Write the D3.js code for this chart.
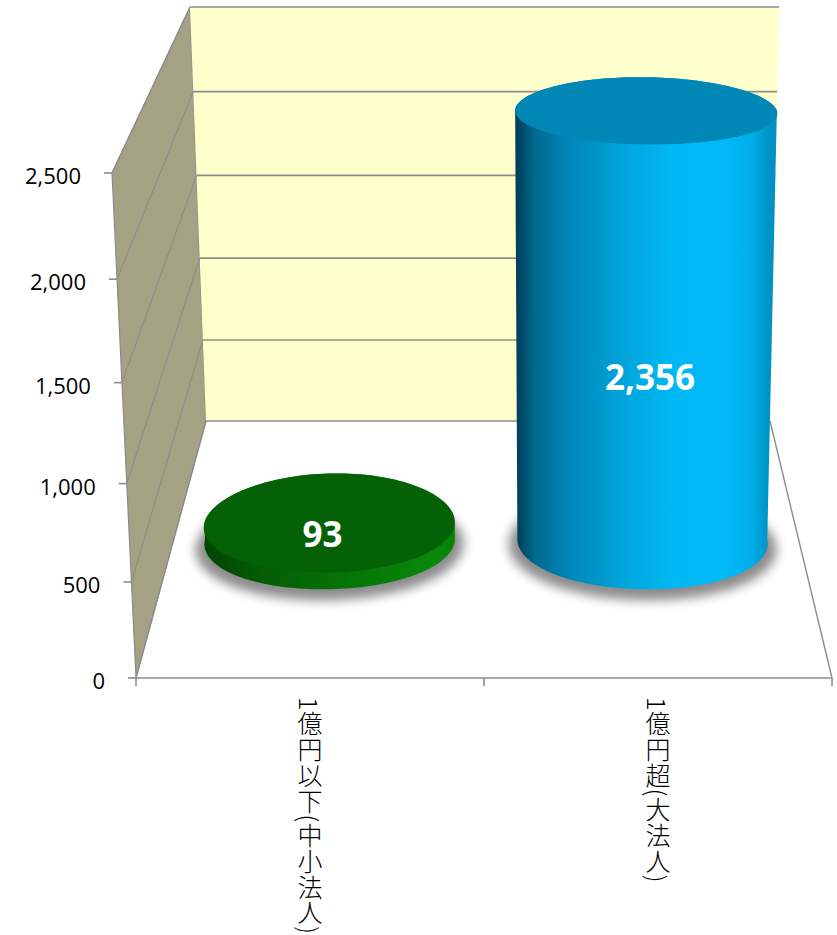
<!DOCTYPE html>
<html>
<head>
<meta charset="utf-8">
<script src="https://cdn.jsdelivr.net/npm/d3@7/dist/d3.min.js"></script>
<style>
  html, body { margin: 0; padding: 0; background: #ffffff; }
  svg { display: block; }
</style>
</head>
<body>
<div id="chart"></div>
<script>
// Corporations by capital size
const categories = ["1億円以下(中小法人)", "1億円超(大法人)"];
const values = [93, 2356];
const valueTicks = [0, 500, 1000, 1500, 2000, 2500];
const valueMax = 2500;

// Palette per series: top cap, body gradient stops
const palette = [
  { top: "#056105", body: ["#024402", "#045a04", "#066c06", "#077c07", "#088808", "#078207"] },
  { top: "#0087b5", body: ["#00405a", "#006a90", "#0089ba", "#00a8e0", "#00b8f4", "#00b9f6", "#00aee8", "#0092c4"] }
];

const W = 837, H = 935;
const svg = d3.select("#chart").append("svg")
  .attr("width", W).attr("height", H)
  .attr("viewBox", [0, 0, W, H]);

// Foreshortening of the value axis: heights grow slightly toward the top
function foreshorten(c) {
  return v => {
    const t = v / valueMax;
    return valueMax * t * (1 - c) / (1 - c * t);
  };
}
const fFront = foreshorten(0.061);
const fBack = foreshorten(0.027);

// ---- Perspective frame: a front plane (axis plane) and a back plane (wall) ----
const yFront = d3.scaleLinear().domain([0, valueMax]).range([678, 173]);
const leftFront = d3.scaleLinear().domain([0, valueMax]).range([136, 112]);
const rightFront = d3.scaleLinear().domain([0, valueMax]).range([832, 847]);
const yBack = d3.scaleLinear().domain([0, valueMax]).range([421, 7]);
const leftBack = d3.scaleLinear().domain([0, valueMax]).range([206, 190]);
const rightBack = d3.scaleLinear().domain([0, valueMax]).range([770, 779]);

// Categories across the floor (0..1), depth 0 = front, 1 = back
const band = d3.scaleBand().domain(categories).range([0, 1]);

function project(u, v, d) {
  const vf = fFront(v), vb = fBack(v);
  const xf = leftFront(vf) + u * (rightFront(vf) - leftFront(vf));
  const xb = leftBack(vb) + u * (rightBack(vb) - leftBack(vb));
  const yf = yFront(vf), yb = yBack(vb);
  return [xf + (xb - xf) * d, yf + (yb - yf) * d];
}

const defs = svg.append("defs");
const gridColor = "#8c8c8c";

// Side wall
const sideWall = [
  project(0, 0, 0), project(0, valueMax, 0), project(0, valueMax, 1), project(0, 0, 1)
];
svg.append("polygon")
  .attr("points", sideWall.map(p => p.join(",")).join(" "))
  .attr("fill", "#a3a283")
  .attr("stroke", gridColor).attr("stroke-width", 1.2).attr("stroke-linejoin", "round");

// Back wall
const backWall = [
  project(0, 0, 1), project(0, valueMax, 1), project(1, valueMax, 1), project(1, 0, 1)
];
svg.append("polygon")
  .attr("points", backWall.map(p => p.join(",")).join(" "))
  .attr("fill", "#ffffcc");

// Gridlines on back wall and side wall
const grid = svg.append("g").attr("stroke", gridColor).attr("fill", "none");
valueTicks.forEach(v => {
  const a = project(0, v, 1), b = project(1, v, 1), f = project(0, v, 0);
  grid.append("line").attr("x1", a[0]).attr("y1", a[1]).attr("x2", b[0]).attr("y2", b[1])
    .attr("stroke-width", 1.6);
  grid.append("line").attr("x1", f[0]).attr("y1", f[1]).attr("x2", a[0]).attr("y2", a[1])
    .attr("stroke-width", 1.1);
});

// Floor right edge
{
  const a = project(1, 0, 1), b = project(1, 0, 0);
  grid.append("line").attr("x1", a[0]).attr("y1", a[1]).attr("x2", b[0]).attr("y2", b[1])
    .attr("stroke-width", 1.4);
}

// Category axis along the front of the floor
const axisG = svg.append("g").attr("stroke", gridColor).attr("stroke-width", 1.6);
{
  const a = project(0, 0, 0), b = project(1, 0, 0);
  axisG.append("line").attr("x1", a[0]).attr("y1", a[1]).attr("x2", b[0]).attr("y2", b[1]);
  const edges = [0].concat(categories.map(c => band(c) + band.bandwidth()));
  edges.forEach(u => {
    const p = project(u, 0, 0);
    axisG.append("line").attr("x1", p[0]).attr("y1", p[1]).attr("x2", p[0]).attr("y2", p[1] + 8);
  });
}

// Value axis ticks and labels on the front edge of the side wall
const fmt = d3.format(",");
const valueAxis = svg.append("g");
valueTicks.forEach(v => {
  const p = project(0, v, 0);
  valueAxis.append("line")
    .attr("x1", p[0] - 8).attr("y1", p[1]).attr("x2", p[0]).attr("y2", p[1])
    .attr("stroke", gridColor).attr("stroke-width", 1.6);
  valueAxis.append("text")
    .attr("x", p[0] - 31).attr("y", p[1] + 2)
    .attr("text-anchor", "end").attr("dominant-baseline", "central")
    .attr("font-family", "'Open Sans', sans-serif").attr("font-size", 22)
    .attr("fill", "#000")
    .text(fmt(v));
});

// Category labels, set vertically
categories.forEach(c => {
  const p = project(band(c) + band.bandwidth() / 2, 0, 0);
  svg.append("text")
    .attr("x", p[0]).attr("y", p[1] + 19)
    .attr("style", "writing-mode: vertical-rl; text-orientation: mixed;")
    .attr("font-family", "'Noto Sans CJK JP', sans-serif")
    .attr("font-weight", 300)
    .attr("font-size", 25)
    .attr("letter-spacing", 0.8)
    .attr("fill", "#000")
    .text(c);
});

// ---- Cylinders ----
const depthCenter = 0.54, depthRadius = 0.195;
const widthRadius = band.bandwidth() * 0.4;

const blur = defs.append("filter").attr("id", "shadowBlur")
  .attr("x", "-30%").attr("y", "-30%").attr("width", "160%").attr("height", "160%");
blur.append("feGaussianBlur").attr("stdDeviation", 5.5);

function ringPoints(uc, v, th0, th1, n, sx = 1, sy = 1) {
  const pts = [];
  for (let i = 0; i <= n; i++) {
    const t = th0 + (th1 - th0) * i / n;
    pts.push(project(uc + widthRadius * sx * Math.cos(t), v, depthCenter - depthRadius * sy * Math.sin(t)));
  }
  return pts;
}

const line = d3.line().curve(d3.curveLinear);

const cyl = svg.selectAll("g.cyl")
  .data(categories.map((c, i) => ({ c, v: values[i], i })))
  .join("g").attr("class", "cyl");

cyl.each(function (d) {
  const g = d3.select(this);
  const uc = band(d.c) + band.bandwidth() / 2;
  const col = palette[d.i];

  // Soft floor shadow
  const sh = ringPoints(uc, 0, 0, 2 * Math.PI, 90, 1.07, 1.12).map(p => [p[0], p[1] + 5]);
  g.append("path").attr("d", line(sh) + "Z")
    .attr("fill", "#000").attr("opacity", 0.45)
    .attr("filter", "url(#shadowBlur)");

  // Body gradient across the silhouette
  const left = project(uc - widthRadius, 0, depthCenter);
  const right = project(uc + widthRadius, 0, depthCenter);
  const gid = "body" + d.i;
  const grad = defs.append("linearGradient").attr("id", gid)
    .attr("gradientUnits", "userSpaceOnUse")
    .attr("x1", left[0]).attr("y1", 0).attr("x2", right[0] + 2).attr("y2", 0);
  const stops = col.body;
  const offs = d.i === 1 ? [0, 0.07, 0.22, 0.45, 0.62, 0.82, 0.93, 1] : [0, 0.2, 0.45, 0.7, 0.9, 1];
  stops.forEach((s, k) => grad.append("stop").attr("offset", offs[k]).attr("stop-color", s));

  const bottomFront = ringPoints(uc, 0, Math.PI, 0, 90);
  const topBack = ringPoints(uc, d.v, 0, -Math.PI, 90);
  g.append("path").attr("d", line(bottomFront.concat(topBack)) + "Z")
    .attr("fill", `url(#${gid})`);

  const topRing = ringPoints(uc, d.v, 0, 2 * Math.PI, 120);
  g.append("path").attr("d", line(topRing) + "Z").attr("fill", col.top);

  // Value label
  const topC = project(uc, d.v, depthCenter);
  const botC = project(uc, 0, depthCenter);
  const lx = project(uc, d.v / 2, depthCenter - depthRadius)[0];
  const ly = topC[1] + 0.62 * (botC[1] - topC[1]);
  g.append("text")
    .attr("x", lx).attr("y", ly)
    .attr("text-anchor", "middle").attr("dominant-baseline", "central")
    .attr("font-family", "'Open Sans', sans-serif").attr("font-weight", 700)
    .attr("font-size", 35).attr("fill", "#ffffff")
    .text(fmt(d.v));
});
</script>
</body>
</html>
